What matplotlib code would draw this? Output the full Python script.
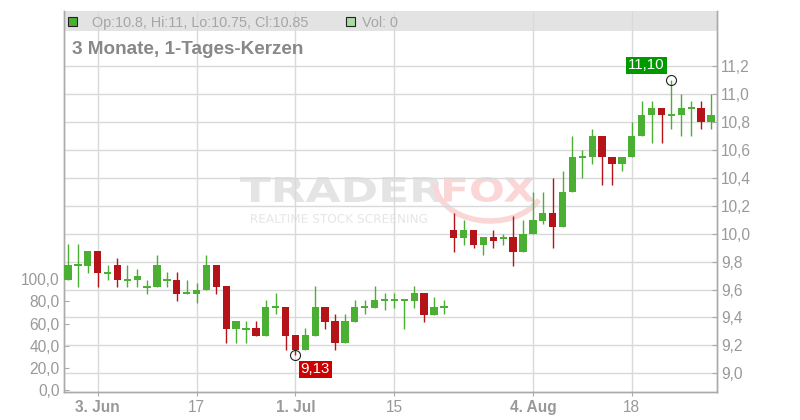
import matplotlib
matplotlib.use('Agg')
import matplotlib.pyplot as plt
import numpy as np
import pandas as pd
from matplotlib.patches import Rectangle, PathPatch, Arc
from matplotlib.textpath import TextPath
from matplotlib.font_manager import FontProperties
from matplotlib.transforms import Affine2D

plt.rcParams['font.family'] = ['Liberation Sans', 'DejaVu Sans']

# ---------------- data ----------------
dates = pd.bdate_range('2025-05-29', '2025-08-28')
opens = [9.67, 9.775, 9.77, 9.875, 9.72, 9.775, 9.67, 9.665, 9.62, 9.62,
         9.67, 9.67, 9.575, 9.57, 9.595, 9.775, 9.625, 9.32, 9.32, 9.325,
         9.27, 9.475, 9.475, 9.275, 9.165, 9.27, 9.475, 9.375, 9.22, 9.37,
         9.475, 9.47, 9.525, 9.525, 9.525, 9.52, 9.575, 9.42, 9.475, 10.025,
         9.97, 10.025, 9.92, 9.975, 9.97, 9.975, 9.87, 10.0, 10.09, 10.15,
         10.05, 10.295, 10.55, 10.55, 10.70, 10.55, 10.50, 10.55, 10.70, 10.85,
         10.90, 10.85, 10.85, 10.90, 10.90, 10.80]
highs = [9.925, 9.925, 9.875, 9.875, 9.775, 9.825, 9.775, 9.75, 9.67, 9.85,
         9.725, 9.725, 9.67, 9.65, 9.85, 9.775, 9.625, 9.375, 9.375, 9.375,
         9.525, 9.575, 9.475, 9.275, 9.325, 9.625, 9.475, 9.425, 9.425, 9.525,
         9.525, 9.625, 9.575, 9.575, 9.525, 9.625, 9.575, 9.55, 9.525, 10.15,
         10.095, 10.025, 9.975, 10.025, 10.0, 10.125, 10.095, 10.295, 10.295, 10.395,
         10.445, 10.70, 10.60, 10.75, 10.70, 10.55, 10.55, 10.80, 10.95, 10.95,
         10.90, 11.10, 11.0, 10.95, 10.95, 11.0]
lows = [9.665, 9.62, 9.72, 9.62, 9.665, 9.62, 9.62, 9.62, 9.57, 9.62,
        9.62, 9.52, 9.57, 9.50, 9.595, 9.57, 9.22, 9.22, 9.22, 9.27,
        9.27, 9.425, 9.165, 9.13, 9.165, 9.27, 9.32, 9.165, 9.22, 9.37,
        9.425, 9.47, 9.45, 9.47, 9.32, 9.47, 9.37, 9.42, 9.425, 9.87,
        9.92, 9.90, 9.85, 9.90, 9.92, 9.77, 9.87, 10.0, 10.07, 9.90,
        10.05, 10.295, 10.40, 10.50, 10.35, 10.35, 10.45, 10.55, 10.70, 10.65,
        10.65, 10.75, 10.70, 10.70, 10.75, 10.75]
closes = [9.775, 9.775, 9.875, 9.72, 9.72, 9.665, 9.67, 9.70, 9.62, 9.775,
          9.67, 9.57, 9.575, 9.60, 9.775, 9.62, 9.32, 9.375, 9.32, 9.27,
          9.475, 9.475, 9.27, 9.165, 9.275, 9.475, 9.37, 9.22, 9.375, 9.475,
          9.475, 9.525, 9.525, 9.525, 9.525, 9.575, 9.42, 9.475, 9.475, 9.97,
          10.025, 9.92, 9.975, 9.95, 9.97, 9.87, 10.0, 10.095, 10.15, 10.05,
          10.295, 10.55, 10.55, 10.70, 10.55, 10.50, 10.55, 10.70, 10.85, 10.90,
          10.85, 10.85, 10.90, 10.90, 10.80, 10.85]
volumes = [0] * len(opens)

tick_dates = ['2025-06-03', '2025-06-17', '2025-07-01', '2025-07-15', '2025-08-04', '2025-08-18']
tick_labels = ['3. Jun', '17', '1. Jul', '15', '4. Aug', '18']
tick_bold = [True, False, True, False, True, False]
price_ticks = [9.0, 9.2, 9.4, 9.6, 9.8, 10.0, 10.2, 10.4, 10.6, 10.8, 11.0, 11.2]
vol_ticks = [0, 20, 40, 60, 80, 100]
title = '3 Monate, 1-Tages-Kerzen'

# ---------------- styles ----------------
GREEN = '#4aaf33'
RED = '#b41419'
GRID = '#d9d9d9'
AXC = '#aaaaaa'
TXT = '#999999'
W, H = 800, 420

o = np.array(opens); h = np.array(highs); l = np.array(lows); c = np.array(closes)
n = len(o)
x = np.arange(n)
dates = dates[:n]
tick_idx = [dates.get_loc(pd.Timestamp(d)) for d in tick_dates]

fig = plt.figure(figsize=(8, 4.2), dpi=100)
left, right, top, bottom = 64, 716.7, 11, 391.5
ax = fig.add_axes([left / W, 1 - bottom / H, (right - left) / W, (bottom - top) / H])
axp = ax.twinx()

# pixel -> display transform (y down)
PX = Affine2D().scale(1 / W, -1 / H).translate(0, 1) + fig.transFigure

# volume axis (left)
ax.bar(x, volumes, width=0.74, color='#a8dca0')
ax.set_xlim(-0.4, n - 1 + 0.58)
ax.set_ylim(-1, 340.8)
ax.set_yticks(vol_ticks)
ax.set_yticklabels([f'{v:.1f}'.replace('.', ',') for v in vol_ticks])
ax.set_xticks(tick_idx)
ax.set_xticklabels(tick_labels)
for lab, b in zip(ax.get_xticklabels(), tick_bold):
    lab.set_fontweight('bold' if b else 'normal')
ax.set_axisbelow(True)
ax.grid(True, axis='x', color=GRID, lw=1.0)
ax.grid(False, axis='y')
ax.tick_params(axis='y', direction='in', length=3.5, width=0.8, color=AXC,
               labelcolor=TXT, labelsize=11.2, pad=3)
ax.tick_params(axis='x', direction='out', length=3, width=0.8, color=AXC,
               labelcolor=TXT, labelsize=11.2, pad=3)

# legend band
ax.add_patch(Rectangle((0, (bottom - 31) / (bottom - top)), 1, (31 - top) / (bottom - top),
                       transform=ax.transAxes, facecolor='#e3e3e3', edgecolor='none', zorder=0.4))

for a in (ax, axp):
    a.spines['top'].set_visible(False)
    for s in ('left', 'right', 'bottom'):
        a.spines[s].set_color(AXC)
        a.spines[s].set_linewidth(1.0)

# price axis (right)
axp.set_ylim(8.870, 11.594)
axp.set_yticks(price_ticks)
axp.set_yticklabels([f'{v:.1f}'.replace('.', ',') for v in price_ticks])
axp.grid(True, axis='y', color=GRID, lw=1.0)
axp.set_axisbelow(True)
axp.tick_params(axis='y', direction='in', length=3.5, width=0.8, color=AXC,
                labelcolor=TXT, labelsize=11.2, pad=3)

colors = [GREEN if cc >= oo else RED for oo, cc in zip(o, c)]
axp.vlines(x, l, h, colors=colors, lw=1.0, zorder=2)
body_lo = np.minimum(o, c)
body_h = np.abs(c - o)
minh = 0.013
adj_h = np.maximum(body_h, minh)
adj_lo = body_lo - (adj_h - body_h) / 2
axp.bar(x, adj_h, bottom=adj_lo, width=0.74, color=colors, linewidth=0, zorder=3)

# watermark
def path_text(s, x0, y_base, wpx, hpx, color, weight='bold'):
    tp = TextPath((0, 0), s, size=1, prop=FontProperties(family='DejaVu Sans', weight=weight))
    ext = tp.get_extents()
    tr = Affine2D().translate(-ext.x0, -ext.y0).scale(wpx / ext.width, -hpx / ext.height) \
        .translate(x0, y_base) + PX
    pp = PathPatch(tp, transform=tr, facecolor=color, edgecolor='none', zorder=0.3, clip_on=False)
    ax.add_artist(pp)

path_text('TRADER', 240, 202, 203, 25, '#e4e4e4')
path_text('FOX', 444, 202, 91, 25, '#fbd6d6')
path_text('REALTIME STOCK SCREENING', 251, 223, 176, 9, '#e6e6e6', weight='normal')
arc = Arc((490, 182), 110, 78, theta1=20, theta2=178, transform=PX,
          color='#fbd6d6', lw=4, zorder=0.3, clip_on=False)
ax.add_artist(arc)

# high / low markers
hi_i = int(np.argmax(h)); lo_i = int(np.argmin(l))
axp.plot([hi_i], [h[hi_i]], 'o', mfc='none', mec='#222222', ms=7.2, mew=0.8, zorder=5)
axp.plot([lo_i], [l[lo_i]], 'o', mfc='none', mec='#222222', ms=7.2, mew=0.8, zorder=5)
axp.annotate(f'{h[hi_i]:.2f}'.replace('.', ','), (hi_i, h[hi_i]), xytext=(-18, 10.5),
             textcoords='offset points', ha='center', va='center', color='white', fontsize=10.8,
             bbox=dict(boxstyle='square,pad=0.12', fc='#009900', ec='none'), zorder=6)
axp.annotate(f'{l[lo_i]:.2f}'.replace('.', ','), (lo_i, l[lo_i]), xytext=(14.3, -10.2),
             textcoords='offset points', ha='center', va='center', color='white', fontsize=10.8,
             bbox=dict(boxstyle='square,pad=0.12', fc='#cc0000', ec='none'), zorder=6)

# legend texts
fig.add_artist(Rectangle((68.3, 16.7), 8.6, 9.0, transform=PX, facecolor=GREEN,
                         edgecolor='#222222', lw=0.8))
fig.text(92.3, 26.7, f'Op:{o[-1]:g}, Hi:{h[-1]:g}, Lo:{l[-1]:g}, Cl:{c[-1]:g}',
         transform=PX, ha='left', va='baseline', fontsize=10.4, color='#a6a6a6')
fig.add_artist(Rectangle((346.3, 16.7), 8.6, 9.0, transform=PX, facecolor='#a8dca0',
                         edgecolor='#222222', lw=0.8))
fig.text(361.7, 26.7, f'Vol: {volumes[-1]}', transform=PX, ha='left', va='baseline',
         fontsize=10.4, color='#a6a6a6')
fig.text(72.5, 54.3, title, transform=PX, ha='left', va='baseline', fontsize=13.6,
         fontweight='bold', color='#888888')

fig.savefig('out.png', dpi=100)
